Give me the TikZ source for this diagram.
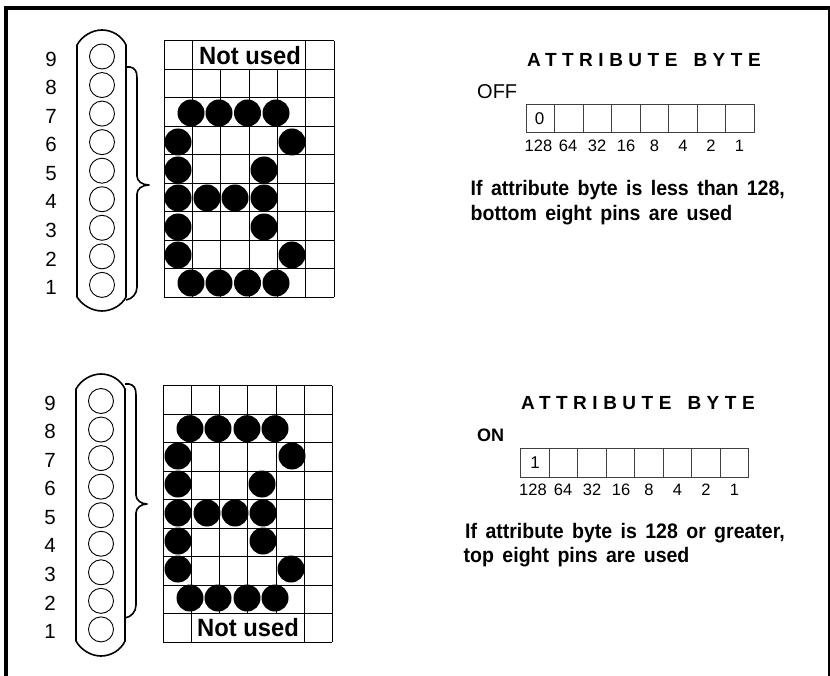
\documentclass[tikz,border=0pt]{standalone}
\usepackage{fontspec}
\setmainfont{Liberation Sans}
\newfontfamily\spaced[LetterSpace=29]{Liberation Sans}
\newfontfamily\notefont[FakeStretch=0.93,WordSpace=1.55]{Liberation Sans}
\newfontfamily\usedfont[FakeStretch=0.95]{Liberation Sans}
\begin{document}
\begin{tikzpicture}[x=1pt,y=-1pt,
  pinhole/.style={draw,circle,line width=0.9pt,minimum size=25pt,inner sep=0pt},
  dot/.style={fill=black,draw=none,circle,minimum size=27pt,inner sep=0pt},
  pinlabel/.style={font=\fontsize{20.5}{20}\selectfont,inner sep=0pt},
  weight/.style={font=\fontsize{16.5}{16}\selectfont,inner sep=0pt},
  capsule/.style={line width=1.6pt,fill=white},
  bracket/.style={line width=1.6pt,line join=round},
  gridline/.style={line width=1pt},
  boxline/.style={line width=0.8pt,draw=black!75},
  note/.style={font=\notefont\fontsize{21}{21}\bfseries\selectfont,inner sep=0pt,anchor=base west},
  heading/.style={font=\spaced\fontsize{19}{19}\bfseries\selectfont,inner sep=0pt,anchor=base west},
  state/.style={font=\fontsize{20}{20}\selectfont,inner sep=0pt,anchor=base west},
  notused/.style={font=\usedfont\fontsize{25}{25}\bfseries\selectfont,inner sep=0pt}]
\useasboundingbox (0,0) rectangle (830,676);
\fill[black] (4,6) rectangle (830,10);
\fill[black] (4,6) rectangle (8,676);
\fill[black] (828,6) rectangle (830,676);
% --- top panel
\draw[capsule] (77,45) .. controls (82,36) and (92,30) .. (102,30) .. controls (112,30) and (122,36) .. (126,45) -- (126,297) .. controls (122,305) and (112,311) .. (102,311) .. controls (92,311) and (82,305) .. (77,297) -- cycle;
\foreach \n [count=\i from 0] in {9,...,1}{
  \node[pinhole] (ta\n) at (102,{56.5+28.55*\i}) {};
  \node[pinlabel] (tl\n) at (51,{59+28.55*\i}) {\n};
}
\draw[bracket] (126,67) -- (130,67) .. controls (135,68) and (137,71) .. (137,78) -- (137,176) .. controls (137,181) and (142,185) .. (149,185) .. controls (142,185) and (137,189) .. (137,194) -- (137,287) .. controls (137,294) and (132,299) .. (126,300);
\foreach \i in {0,...,9}{\draw[gridline] (164,{41+28.5*\i}) -- (334,{41+28.5*\i});}
\draw[gridline] (164,41) -- (164,297.5) (192.3,41) -- (192.3,297.5) (305.7,41) -- (305.7,297.5) (334,41) -- (334,297.5);
\foreach \x in {220.7,249,277.3}{\draw[gridline] (\x,69.5) -- (\x,297.5);}
\node[notused] (tn) at (250,55.5) {Not used};
\foreach \x/\y in {191/113,219/113,247.5/113,276/113,178/142,292/142,178/170,264/170,178/198,207/198,235/198,264/198,178/227,264/227,178/255,292/255,191/283,219/283,247.5/283,276/283}{
  \node[dot] at (\x,\y) {};
}
\node[heading] (th) at (527,66.7) {ATTRIBUTE\hspace{16pt}BYTE};
\node[state] (to) at (477,99) {OFF};
\foreach \i in {0,...,7}{\draw[boxline] ({526+28.5*\i},104) rectangle ({526+28.5*(\i+1)},132.7);}
\node[pinlabel,font=\fontsize{17}{17}\selectfont] (tz) at (539.5,118.5) {0};
\foreach \w/\x in {128/538.5,64/568,32/597,16/626,8/654.5,4/683,2/711,1/739.5}{
  \node[weight] at (\x,146) {\w};
}
\node[note] (tn1) at (470.5,196) {If attribute byte is less than 128,};
\node[note] (tn2) at (470.5,220.5) {bottom eight pins are used};
% --- bottom panel
\draw[capsule] (76,389) .. controls (81,380) and (91,374) .. (101,374) .. controls (111,374) and (121,380) .. (125,389) -- (125,641) .. controls (121,650) and (111,656) .. (101,656) .. controls (91,656) and (81,650) .. (76,641) -- cycle;
\foreach \n [count=\i from 0] in {9,...,1}{
  \node[pinhole] (ba\n) at (101,{401+28.55*\i}) {};
  \node[pinlabel] (bl\n) at (50,{403+28.55*\i}) {\n};
}
\draw[bracket] (125,384) -- (129,384) .. controls (134,385) and (136,388) .. (136,395) -- (136,495) .. controls (136,500) and (141,504) .. (147,504) .. controls (141,504) and (136,508) .. (136,513) -- (136,605) .. controls (136,612) and (131,617) .. (125,618);
\foreach \i in {0,...,9}{\draw[gridline] (163,{385.5+28.5*\i}) -- (332,{385.5+28.5*\i});}
\draw[gridline] (163,385.5) -- (163,642) (191.2,385.5) -- (191.2,642) (304.2,385.5) -- (304.2,642) (332,385.5) -- (332,642);
\foreach \x in {219.5,247.8,276}{\draw[gridline] (\x,385.5) -- (\x,613.5);}
\node[notused] (bn) at (248,628) {Not used};
\foreach \x/\y in {190/428.7,218/428.7,247/428.7,275/428.7,178/456,292/456,178/484,262/484,178/513,207/513,235/513,263/513,178/541,263/541,178/569,291/569,190/598,218/598,247/598,275/598}{
  \node[dot] at (\x,\y) {};
}
\node[heading] (bh) at (521,409.5) {ATTRIBUTE\hspace{16pt}BYTE};
\node[state,font=\fontsize{18}{18}\bfseries\selectfont] (bo) at (477,441.5) {ON};
\foreach \i in {0,...,7}{\draw[boxline] ({520.5+28.5*\i},448.7) rectangle ({520.5+28.5*(\i+1)},477);}
\node[pinlabel,font=\fontsize{17}{17}\selectfont] (bz) at (535,463) {1};
\foreach \w/\x in {128/533,64/563,32/592,16/621,8/649,4/677.5,2/706,1/734.5}{
  \node[weight] at (\x,490) {\w};
}
\node[note] (bn1) at (465,538) {If attribute byte is 128 or greater,};
\node[note] (bn2) at (463.5,562) {top eight pins are used};
\end{tikzpicture}
\end{document}
